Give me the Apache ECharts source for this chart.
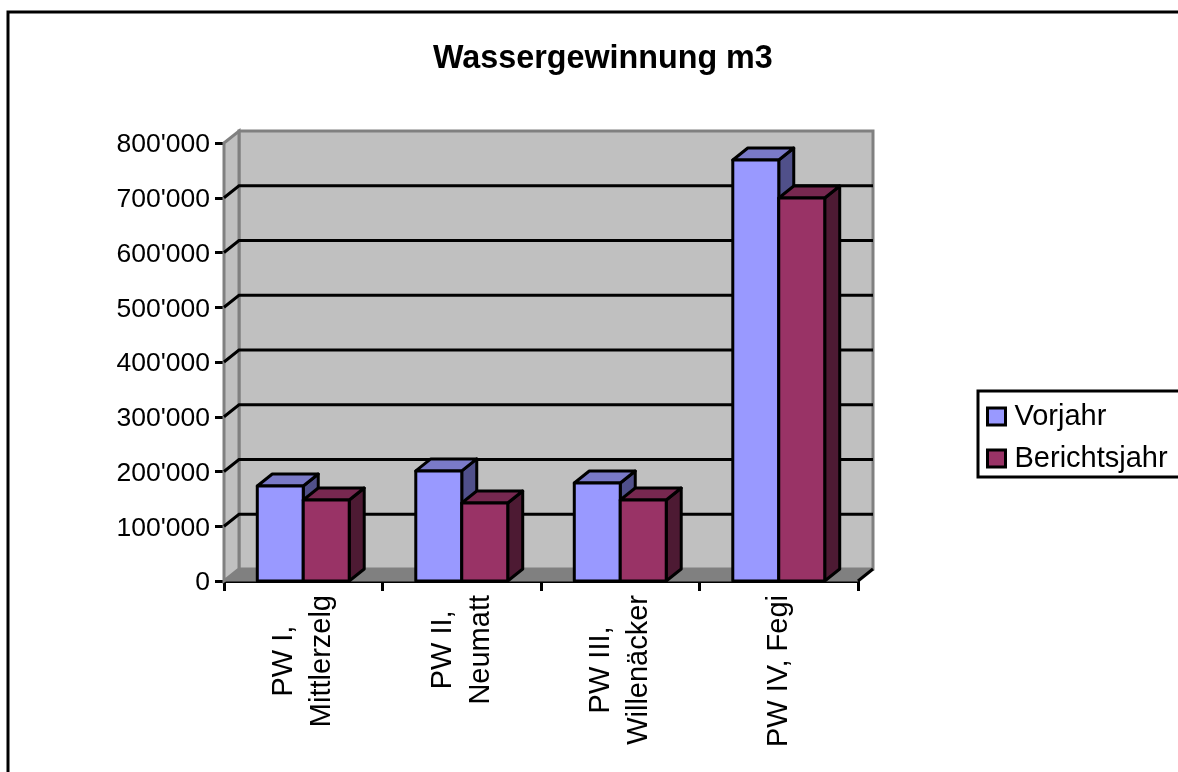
<!DOCTYPE html>
<html>
<head>
<meta charset="utf-8">
<style>html,body{margin:0;padding:0;background:#fff}#chart{width:1178px;height:772px}</style>
<script src="https://cdn.jsdelivr.net/npm/echarts@6/dist/echarts.min.js"></script>
</head>
<body>
<div id="chart"></div>
<script>
const categories = ['PW I,\nMittlerzelg', 'PW II,\nNeumatt', 'PW III,\nWillenäcker', 'PW IV, Fegi'];
const vorjahr = [173500, 201000, 179000, 769000];
const berichtsjahr = [148000, 142500, 148000, 699500];
const yTicks = [100000, 200000, 300000, 400000, 500000, 600000, 700000, 800000];

// depth of the fake 3d box, in pixels
const DX = 15, DY = -12;
const FONT = 'Liberation Sans';
const CAT_FONT_SIZE = 29;

function formatValue(v) {
    return '{v|' + String(v).replace(/\B(?=(\d{3})+$)/g, "'") + '}';
}

// lines are centred on each other, but the block hangs from the axis:
// padding shifts the centre anchor by half of its size
const measure = document.createElement('canvas').getContext('2d');
measure.font = CAT_FONT_SIZE + 'px "' + FONT + '"';
function catItem(name) {
    const longest = Math.max.apply(null, name.split('\n').map(function (s) { return measure.measureText(s).width; }));
    return {value: name, textStyle: {align: 'center', verticalAlign: 'middle', padding: [0, longest, 0, 0]}};
}

function renderWalls(params, api) {
    const g = params.coordSys;
    const x0 = g.x, x1 = g.x + g.width, y0 = g.y, y1 = g.y + g.height;
    const wall = {fill: '#c0c0c0', stroke: '#808080', lineWidth: 3};
    const children = [
        {type: 'polygon', shape: {points: [[x0 + DX, y0 + DY], [x1 + DX, y0 + DY], [x1 + DX, y1 + DY], [x0 + DX, y1 + DY]]}, style: wall},
        {type: 'polygon', shape: {points: [[x0, y0], [x0 + DX, y0 + DY], [x0 + DX, y1 + DY], [x0, y1]]}, style: wall},
        {type: 'polygon', shape: {points: [[x0, y1], [x0 + DX, y1 + DY], [x1 + DX, y1 + DY], [x1, y1]]}, style: {fill: '#808080', stroke: '#808080', lineWidth: 1}}
    ];
    yTicks.slice(0, -1).forEach(function (v) {
        const y = api.coord([0, v])[1];
        children.push({
            type: 'polyline',
            shape: {points: [[x0, y], [x0 + DX, y + DY], [x1 + DX, y + DY]]},
            style: {fill: 'none', stroke: '#000', lineWidth: 3}
        });
    });
    // corner edge of the floor
    children.push({type: 'line', shape: {x1: x1, y1: y1, x2: x1 + DX, y2: y1 + DY}, style: {stroke: '#000', lineWidth: 3}});
    return {type: 'group', children: children};
}

function barRenderer(offset, front, top, side) {
    return function (params, api) {
        const c = api.coord([api.value(0), api.value(1)]);
        const base = api.coord([api.value(0), 0]);
        const band = api.size([1, 0])[0];
        const w = band * 0.29;
        const xa = c[0] + offset * w, xb = xa + w, yt = c[1], yb = base[1];
        const line = {stroke: '#000', lineWidth: 3, lineJoin: 'round'};
        return {
            type: 'group',
            children: [
                {type: 'polygon', shape: {points: [[xb, yt], [xb + DX, yt + DY], [xb + DX, yb + DY], [xb, yb]]}, style: Object.assign({fill: side}, line)},
                {type: 'polygon', shape: {points: [[xa, yt], [xa + DX, yt + DY], [xb + DX, yt + DY], [xb, yt]]}, style: Object.assign({fill: top}, line)},
                {type: 'rect', shape: {x: xa, y: yt, width: w, height: yb - yt}, style: Object.assign({fill: front}, line)}
            ]
        };
    };
}

const chart = echarts.init(document.getElementById('chart'), null, {renderer: 'canvas'});
chart.setOption({
    animation: false,
    backgroundColor: '#fff',
    title: {
        text: 'Wassergewinnung m3',
        left: 433,
        top: 43,
        padding: 0,
        textStyle: {fontFamily: FONT, fontSize: 32.3, fontWeight: 'bold', color: '#000'}
    },
    graphic: [{
        type: 'rect',
        shape: {x: 8, y: 12, width: 1300, height: 900},
        style: {fill: 'none', stroke: '#000', lineWidth: 3},
        silent: true
    }],
    legend: {
        orient: 'vertical',
        left: 978,
        top: 391,
        padding: [11, 40, 4, 8],
        itemGap: 13,
        itemWidth: 18,
        itemHeight: 17,
        icon: 'rect',
        borderColor: '#000',
        borderWidth: 3,
        backgroundColor: '#fff',
        data: ['Vorjahr', 'Berichtsjahr'],
        itemStyle: {borderColor: '#000', borderWidth: 3},
        textStyle: {fontFamily: FONT, fontSize: 29, color: '#000', padding: [0, 0, 0, 4]}
    },
    grid: {left: 224, right: 320, top: 143, bottom: 191, outerBoundsMode: 'none'},
    xAxis: {
        type: 'category',
        data: categories.map(catItem),
        axisLine: {lineStyle: {color: '#000', width: 3}},
        axisTick: {show: true, length: 10, lineStyle: {color: '#000', width: 3}},
        axisLabel: {
            interval: 0, rotate: 90, margin: 14, lineHeight: 38,
            fontFamily: FONT, fontSize: CAT_FONT_SIZE, color: '#000'
        }
    },
    yAxis: {
        type: 'value',
        min: 0,
        max: 800000,
        interval: 100000,
        splitLine: {show: false},
        axisLine: {show: true, lineStyle: {color: '#000', width: 3}},
        axisTick: {show: true, length: 9, lineStyle: {color: '#000', width: 3}},
        axisLabel: {
            margin: 14,
            formatter: formatValue,
            rich: {v: {padding: [4, 0, 0, 0], fontFamily: FONT, fontSize: 26.5, color: '#000'}}
        }
    },
    series: [
        {type: 'custom', silent: true, z: 1, data: [[0, 0]], renderItem: renderWalls},
        {
            name: 'Vorjahr', type: 'custom', z: 2,
            itemStyle: {color: '#9999ff'},
            data: vorjahr.map(function (v, i) { return [i, v]; }),
            encode: {x: 0, y: 1},
            renderItem: barRenderer(-1, '#9999ff', '#7a7ac8', '#50508a')
        },
        {
            name: 'Berichtsjahr', type: 'custom', z: 3,
            itemStyle: {color: '#993366'},
            data: berichtsjahr.map(function (v, i) { return [i, v]; }),
            encode: {x: 0, y: 1},
            renderItem: barRenderer(0, '#993366', '#772850', '#4d1a33')
        }
    ]
});
</script>
</body>
</html>
